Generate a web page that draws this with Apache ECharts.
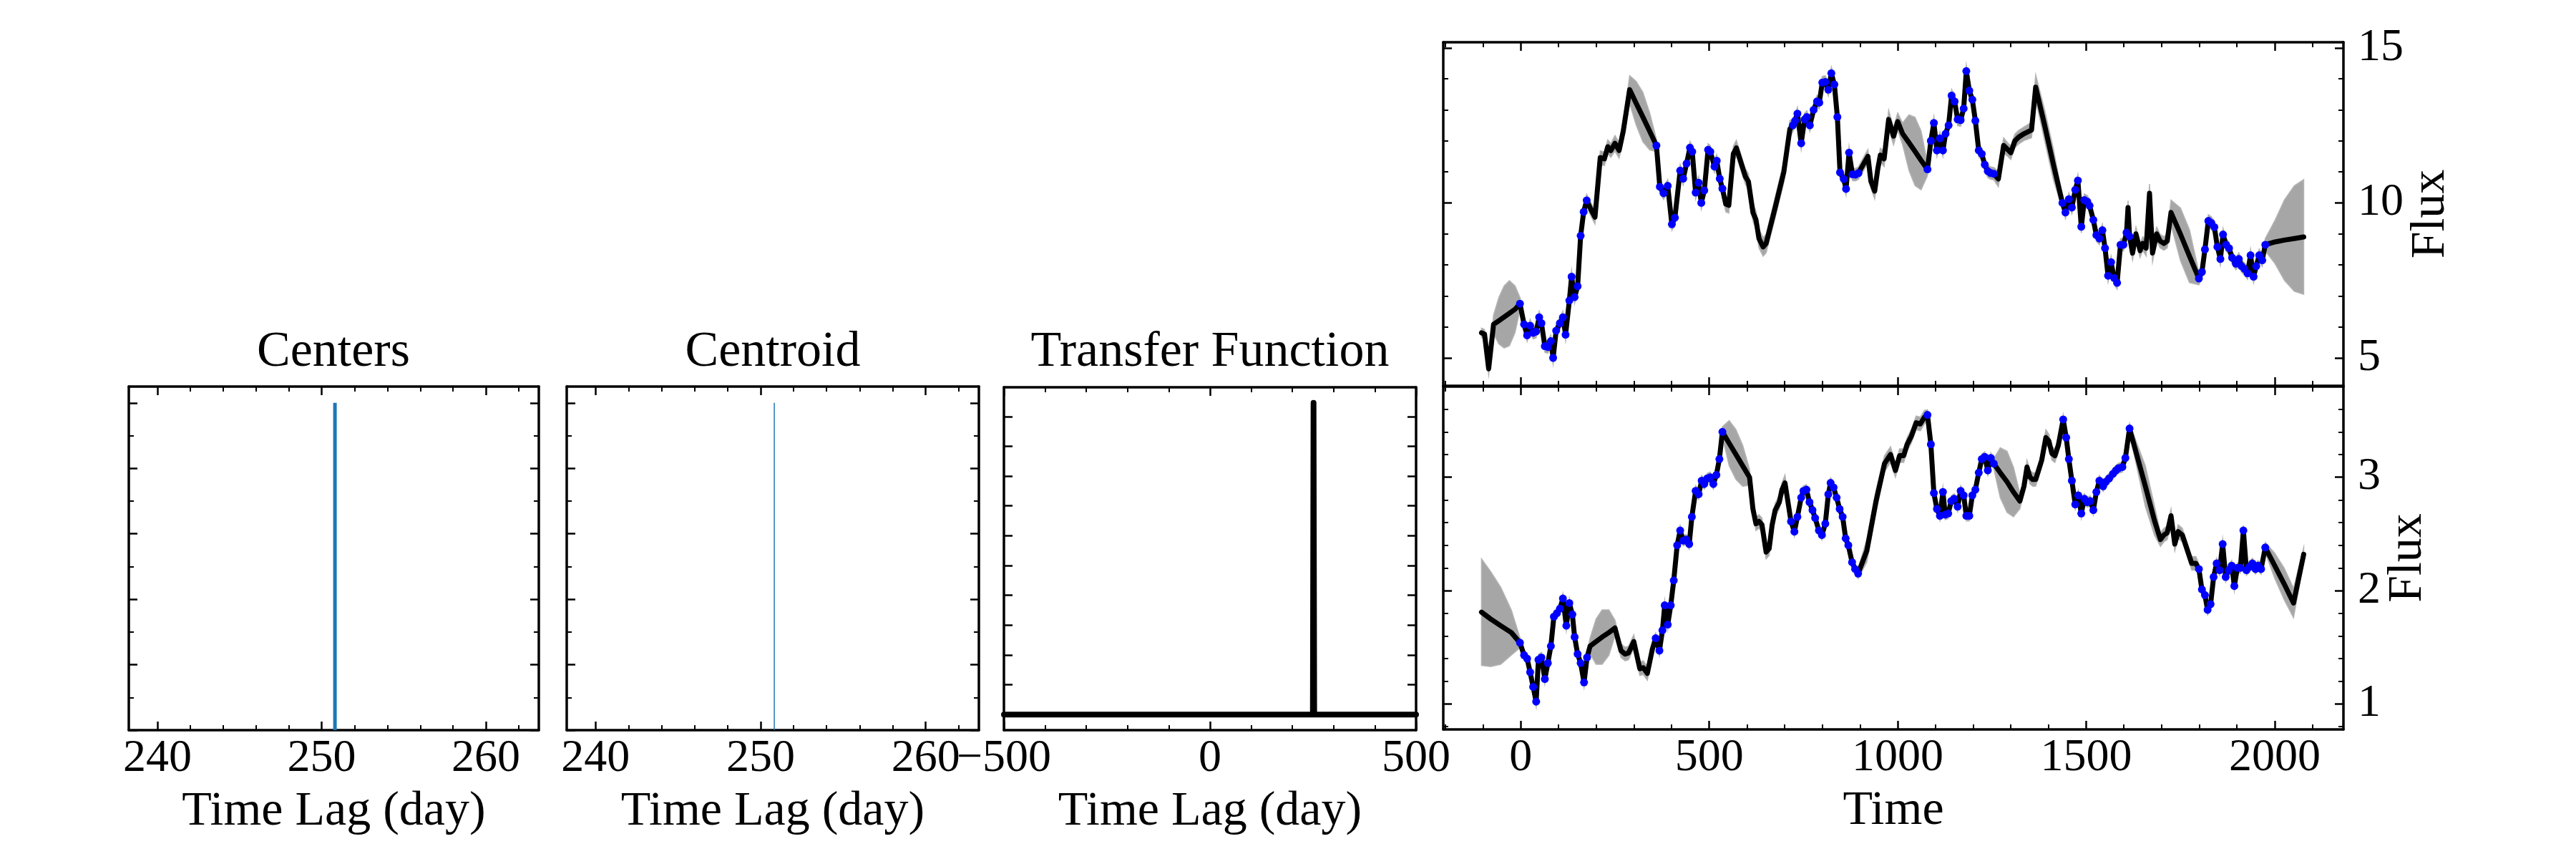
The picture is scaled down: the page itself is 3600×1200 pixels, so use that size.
<!DOCTYPE html>
<html><head><meta charset="utf-8">
<script src="https://cdn.jsdelivr.net/npm/echarts@6/dist/echarts.min.js"></script>
<style>html,body{margin:0;padding:0;background:#fff}#c{width:3600px;height:1200px}</style>
</head><body><div id="c"></div><script>
// ---------------- data ----------------
const centersLag = 250.81;          // all samples of the lag centre
const centersHeight = 1.0;          // normalised histogram height
const centroidLag = 250.83;
const centroidHeight = 1.0;
const tfLag   = [-500, 249.6, 251.2, 252.8, 500];
const tfValue = [0, 0, 10.46, 0, 0];

const lagTicks = [240, 250, 260];
const lagMinor = [242, 244, 246, 248, 252, 254, 256, 258, 262];
const histYMajor = [0, 0.2, 0.4, 0.6, 0.8, 1.0];
const histYMinor = [0.1, 0.3, 0.5, 0.7, 0.9];
const tfXMajor = [-500, 0, 500];
const tfXMinor = [-400, -300, -200, -100, 100, 200, 300, 400];
const tfYMajor = [0, 1, 2, 3, 4, 5, 6, 7, 8, 9, 10];
const timeMajor = [0, 500, 1000, 1500, 2000];
const timeMinor = [-200, -100, 100, 200, 300, 400, 600, 700, 800, 900, 1100, 1200, 1300, 1400, 1600, 1700, 1800, 1900, 2100];
const topFluxMajor = [5, 10, 15];
const topFluxMinor = [6, 7, 8, 9, 11, 12, 13, 14];
const botFluxMajor = [1, 2, 3];
const botFluxMinor = [0.8, 1.2, 1.4, 1.6, 1.8, 2.2, 2.4, 2.6, 2.8, 3.2, 3.4, 3.6];

// observed points (blue dots), top light curve
const topObs = [[-2,6.75],[9,6.08],[17,5.73],[25,6.04],[33,5.81],[41,5.85],[49,6.31],[55,6.12],[64,5.38],[72,5.35],[80,5.54],[86,5.00],[94,5.88],[104,6.12],[112,6.31],[119,5.75],[129,6.85],[135,7.62],[143,6.96],[151,7.31],[159,8.94],[167,9.71],[175,10.08],
[360,11.85],[369,10.52],[379,10.31],[390,10.55],[401,9.31],[409,9.52],[423,11.04],[431,10.78],[440,11.27],[449,11.78],[455,11.65],[464,10.33],[472,10.65],[479,10.00],[487,10.40],[497,11.71],[503,11.65],[514,11.17],[520,11.36],[528,10.78],[535,10.46],
[722,12.50],[728,12.65],[734,12.88],[744,11.92],[753,12.69],[759,12.77],[767,12.50],[777,13.00],[786,13.27],[792,13.23],[800,13.88],[808,13.90],[816,13.65],[824,14.18],[832,13.82],[840,12.77],[847,10.98],[857,10.77],[863,10.45],[871,11.62],[880,10.92],[888,10.91],[896,10.96],
[1079,11.08],[1088,12.00],[1096,12.58],[1104,11.69],[1112,12.08],[1120,11.69],[1127,12.23],[1135,12.50],[1143,13.46],[1151,13.27],[1159,12.69],[1167,12.67],[1175,13.04],[1182,14.25],[1190,13.62],[1198,13.33],[1206,12.65],[1215,11.69],[1223,11.58],[1231,11.23],[1239,11.02],[1247,10.96],[1255,10.94],
[1437,10.00],[1445,9.69],[1454,10.12],[1462,9.85],[1471,10.42],[1478,10.72],[1487,9.23],[1495,10.09],[1503,10.04],[1509,9.91],[1519,9.45],[1527,8.96],[1535,8.85],[1543,9.12],[1550,8.54],[1558,7.65],[1566,8.09],[1574,7.58],[1582,7.42],[1591,8.65],[1599,8.65],[1607,9.04],[1615,8.92],
[1799,7.56],[1807,7.77],[1815,8.50],[1824,9.42],[1832,9.35],[1840,9.22],[1848,8.58],[1856,8.19],[1863,8.98],[1871,8.65],[1879,8.54],[1887,8.23],[1897,8.04],[1905,8.19],[1912,7.96],[1920,7.87],[1928,7.73],[1936,8.31],[1944,7.62],[1951,7.96],[1959,8.31],[1967,8.15],[1975,8.65]];
const topObsErr = 0.2;
// model-only points [time, flux, half-width of band]
const topModel = [[-104,5.81,0.15],[-96,5.77,0.15],[-85,4.65,0.2],[-72,6.08,0.3],[-58,6.20,0.75],[-44,6.32,1.0],[-30,6.44,1.05],[-15,6.57,0.75],
[187,9.77,0.22],[197,9.54,0.22],[211,11.46,0.22],[222,11.42,0.22],[231,11.81,0.22],[239,11.69,0.22],[250,11.92,0.25],[261,11.69,0.25],[272,12.31,0.28],[289,13.65,0.45],[306,13.22,0.7],[324,12.77,0.8],[342,12.31,0.6],
[544,9.96,0.25],[552,9.92,0.25],[564,11.58,0.25],[572,11.77,0.25],[596,10.85,0.25],[604,10.69,0.25],[616,9.69,0.28],[624,9.46,0.28],[632,8.85,0.3],[643,8.58,0.3],[651,8.69,0.3],[675,9.85,0.33],[698,11.00,0.33],[714,12.38,0.28],
[912,11.31,0.22],[921,11.50,0.22],[929,10.69,0.22],[939,10.38,0.25],[947,11.08,0.22],[954,11.54,0.22],[964,11.42,0.25],[976,12.69,0.3],[989,12.15,0.28],[1000,12.62,0.28],[1013,12.23,0.35],[1030,11.94,0.9],[1046,11.66,1.1],[1062,11.37,0.95],
[1267,10.77,0.25],[1281,11.85,0.25],[1291,11.73,0.22],[1300,11.62,0.22],[1311,12.00,0.22],[1321,12.12,0.22],[1335,12.23,0.22],[1355,12.35,0.25],[1366,13.73,0.4],[1390,12.49,0.5],[1413,11.24,0.5],
[1611,9.85,0.22],[1623,8.38,0.22],[1632,9.00,0.22],[1643,8.46,0.22],[1650,8.69,0.22],[1659,8.54,0.25],[1668,10.31,0.3],[1676,8.38,0.28],[1687,9.00,0.22],[1696,8.77,0.22],[1706,8.69,0.22],[1715,8.77,0.22],[1725,9.69,0.4],[1750,8.99,0.85],[1774,8.28,0.85],
[2001,8.74,0.7],[2026,8.80,1.3],[2052,8.85,1.7],[2077,8.90,1.85]];

const botObs = [[-2,1.54],[9,1.43],[17,1.40],[25,1.28],[33,1.15],[41,1.02],[47,1.39],[55,1.41],[64,1.22],[72,1.36],[80,1.51],[88,1.77],[96,1.80],[104,1.84],[112,1.93],[121,1.69],[129,1.89],[137,1.79],[143,1.59],[151,1.44],[159,1.36],[168,1.19],[176,1.41],
[358,1.58],[368,1.47],[376,1.65],[382,1.87],[390,1.70],[398,1.87],[406,2.09],[415,2.40],[423,2.53],[431,2.44],[439,2.45],[447,2.41],[454,2.65],[464,2.88],[472,2.85],[480,2.97],[487,2.94],[495,2.99],[503,3.00],[511,2.94],[519,3.02],[527,3.16],[535,3.40],
[717,2.61],[726,2.52],[734,2.65],[744,2.82],[750,2.88],[758,2.89],[766,2.78],[774,2.71],[781,2.64],[791,2.53],[799,2.49],[808,2.59],[816,2.85],[822,2.95],[830,2.91],[838,2.82],[846,2.72],[854,2.65],[862,2.46],[869,2.40],[879,2.25],[887,2.19],[895,2.15],
[1079,3.55],[1088,3.29],[1096,2.86],[1104,2.72],[1112,2.66],[1120,2.87],[1126,2.67],[1134,2.68],[1142,2.79],[1150,2.81],[1159,2.74],[1167,2.88],[1175,2.84],[1182,2.66],[1190,2.66],[1198,2.84],[1206,2.89],[1215,3.04],[1223,3.16],[1231,3.18],[1239,3.06],[1247,3.17],[1255,3.12],
[1439,3.51],[1447,3.35],[1454,3.16],[1462,2.97],[1471,2.76],[1479,2.84],[1487,2.68],[1495,2.81],[1503,2.78],[1511,2.79],[1519,2.71],[1527,2.87],[1535,2.97],[1545,2.92],[1552,2.96],[1561,2.99],[1571,3.03],[1579,3.06],[1586,3.08],[1596,3.09],[1604,3.17],[1615,3.43],
[1799,2.19],[1807,2.01],[1815,1.96],[1822,1.83],[1830,1.88],[1838,2.12],[1846,2.24],[1854,2.18],[1862,2.41],[1870,2.12],[1878,2.18],[1886,2.22],[1893,2.04],[1901,2.20],[1909,2.20],[1917,2.53],[1925,2.18],[1933,2.21],[1941,2.24],[1949,2.19],[1956,2.22],[1964,2.19],[1975,2.38]];
const botObsErr = 0.045;
const botModel = [[-104,1.81,0.47],[-80,1.75,0.42],[-53,1.69,0.34],[-25,1.63,0.2],
[184,1.51,0.07],[200,1.55,0.2],[216,1.59,0.24],[234,1.63,0.2],[250,1.67,0.07],[266,1.47,0.06],[277,1.44,0.06],[286,1.45,0.06],[300,1.55,0.06],[316,1.31,0.06],[325,1.32,0.06],[336,1.27,0.06],[349,1.48,0.06],
[553,3.30,0.2],[571,3.20,0.22],[589,3.10,0.18],[607,3.00,0.07],[616,2.72,0.06],[624,2.59,0.06],[632,2.61,0.06],[640,2.58,0.06],[651,2.34,0.06],[659,2.37,0.06],[667,2.58,0.06],[675,2.71,0.06],[686,2.78,0.06],[693,2.89,0.06],[701,2.95,0.07],[709,2.78,0.06],
[918,2.35,0.1],[942,2.78,0.1],[965,3.12,0.07],[981,3.20,0.07],[994,3.06,0.06],[1005,3.19,0.06],[1016,3.19,0.06],[1025,3.29,0.06],[1036,3.36,0.06],[1049,3.48,0.06],[1060,3.47,0.06],[1071,3.53,0.06],
[1272,3.04,0.22],[1290,2.96,0.27],[1307,2.87,0.22],[1324,2.79,0.07],[1335,2.92,0.06],[1343,3.09,0.06],[1351,3.00,0.06],[1358,2.98,0.06],[1366,2.98,0.06],[1382,3.15,0.06],[1393,3.35,0.07],[1401,3.32,0.06],[1409,3.21,0.06],[1417,3.19,0.06],[1426,3.28,0.06],
[1657,2.92,0.18],[1681,2.62,0.13],[1697,2.45,0.06],[1706,2.49,0.06],[1715,2.51,0.06],[1725,2.66,0.06],[1735,2.41,0.06],[1744,2.52,0.06],[1755,2.49,0.06],[1767,2.37,0.06],[1780,2.24,0.06],[1791,2.24,0.06],
[2000,2.22,0.11],[2025,2.06,0.14],[2050,1.89,0.13],[2077,2.32,0.06]];

// ---------------- styling / layout ----------------
const FONT = '"Liberation Serif", "DejaVu Serif", serif';
const TICK_FS = 64, NAME_FS = 68, TITLE_FS = 70;
const grids = [
  {left:180,  top:540, width:573,  height:480},
  {left:792,  top:540, width:576,  height:480},
  {left:1403, top:541, width:576,  height:479},
  {left:2017, top:59,  width:1258, height:480},
  {left:2017, top:540, width:1258, height:479}
];
grids.forEach(g => { g.outerBoundsMode = 'none'; g.containLabel = false; });

const xAxes = [], yAxes = [];
function fmt(v) { return v < 0 ? '\u2212' + Math.abs(v) : String(v); }
function mkAxis(list, o) {
  const base = {type:'value', gridIndex:o.grid, position:o.pos, min:o.min, max:o.max, splitLine:{show:false}};
  const major = Object.assign({}, base, {
    axisLine:{show:true, onZero:false, lineStyle:{color:'#000', width:3.5}},
    axisTick:{show:true, inside:true, length:12, customValues:o.major, lineStyle:{color:'#000', width:2.5}},
    axisLabel: o.labels ? {show:true, customValues:o.major, formatter:fmt, fontFamily:FONT, fontSize:TICK_FS, color:'#000', margin:o.margin} : {show:false}
  });
  if (o.name) Object.assign(major, {name:o.name, nameLocation:'middle', nameGap:o.nameGap,
    nameTextStyle:{fontFamily:FONT, fontSize:NAME_FS, color:'#000'}});
  const idx = list.length; list.push(major);
  if (o.minor && o.minor.length) {
    list.push(Object.assign({}, base, {
      axisLine:{show:false, onZero:false},
      axisTick:{show:true, inside:true, length:7, customValues:o.minor, lineStyle:{color:'#000', width:2}},
      axisLabel:{show:false}
    }));
  }
  return idx;
}
function frame(g, xr, yr, xMaj, xMin, yMaj, yMin, xLab, xName, yLab, yName, yNameGap) {
  const xi = mkAxis(xAxes, {grid:g, pos:'bottom', min:xr[0], max:xr[1], major:xMaj, minor:xMin, labels:xLab, margin:8, name:xName, nameGap:80});
  mkAxis(xAxes, {grid:g, pos:'top', min:xr[0], max:xr[1], major:xMaj, minor:xMin});
  const yi = mkAxis(yAxes, {grid:g, pos:'left', min:yr[0], max:yr[1], major:yMaj, minor:yMin});
  mkAxis(yAxes, {grid:g, pos:'right', min:yr[0], max:yr[1], major:yMaj, minor:yMin, labels:yLab, margin:20, name:yName, nameGap:yNameGap});
  return [xi, yi];
}
const a0 = frame(0, [238.26, 263.22], [0, 1.05], lagTicks, lagMinor, histYMajor, histYMinor, true, 'Time Lag (day)');
const a1 = frame(1, [238.26, 263.22], [0, 1.05], lagTicks, lagMinor, histYMajor, histYMinor, true, 'Time Lag (day)');
const a2 = frame(2, [-500, 500], [-0.523, 10.98], tfXMajor, tfXMinor, tfYMajor, [], true, 'Time Lag (day)');
const a3 = frame(3, [-205.4, 2182.4], [4.1, 15.18], timeMajor, timeMinor, topFluxMajor, topFluxMinor, false, null, true, 'Flux', 84);
const a4 = frame(4, [-205.4, 2182.4], [0.775, 3.8], timeMajor, timeMinor, botFluxMajor, botFluxMinor, true, 'Time', true, 'Flux', 54);

function buildCurve(obs, model, obsErr) {
  const pts = obs.map(p => [p[0], p[1], obsErr]).concat(model.map(p => [p[0], p[1], p[2]]));
  pts.sort((a, b) => a[0] - b[0]);
  return pts;
}
const topCurve = buildCurve(topObs, topModel, topObsErr);
const botCurve = buildCurve(botObs, botModel, botObsErr);

function bandSeries(ax, pts) {
  return {
    type:'custom', xAxisIndex:ax[0], yAxisIndex:ax[1], z:1, silent:true,
    data:[[pts[0][0], pts[0][1]]],
    renderItem: function (params, api) {
      const up = pts.map(p => api.coord([p[0], p[1] + p[2]]));
      const lo = pts.slice().reverse().map(p => api.coord([p[0], p[1] - p[2]]));
      return {type:'polygon', shape:{points: up.concat(lo)}, style:{fill:'#a6a6a6', stroke:'#b4b4b4', lineWidth:1.5}};
    }
  };
}
function curveSeries(ax, pts) {
  return {type:'line', xAxisIndex:ax[0], yAxisIndex:ax[1], z:3, symbol:'none', silent:true,
    data: pts.map(p => [p[0], p[1]]),
    lineStyle:{color:'#000', width:7, join:'round', cap:'round'}};
}
function dotSeries(ax, obs) {
  return {type:'scatter', xAxisIndex:ax[0], yAxisIndex:ax[1], z:4, silent:true,
    symbol:'circle', symbolSize:11, data: obs, itemStyle:{color:'#0000ff', opacity:1}};
}

const titleStyle = {fontFamily:FONT, fontSize:TITLE_FS, fontWeight:'normal', color:'#000'};
const option = {
  animation:false,
  backgroundColor:'#fff',
  title:[
    {text:'Centers', left:466, top:458, textAlign:'center', padding:0, textStyle:titleStyle},
    {text:'Centroid', left:1080, top:458, textAlign:'center', padding:0, textStyle:titleStyle},
    {text:'Transfer Function', left:1691, top:458, textAlign:'center', padding:0, textStyle:titleStyle}
  ],
  grid: grids,
  xAxis: xAxes,
  yAxis: yAxes,
  series: [
    {type:'line', xAxisIndex:a0[0], yAxisIndex:a0[1], symbol:'none', silent:true,
      data:[[centersLag, 0], [centersLag, centersHeight]], lineStyle:{color:'#1f77b4', width:5}},
    {type:'line', xAxisIndex:a1[0], yAxisIndex:a1[1], symbol:'none', silent:true,
      data:[[centroidLag, 0], [centroidLag, centroidHeight]], lineStyle:{color:'#1f77b4', width:1.5}},
    {type:'line', xAxisIndex:a2[0], yAxisIndex:a2[1], symbol:'none', silent:true,
      data: tfLag.map((v, i) => [v, tfValue[i]]), lineStyle:{color:'#000', width:8, join:'round', cap:'round'}},
    bandSeries(a3, topCurve), curveSeries(a3, topCurve), dotSeries(a3, topObs),
    bandSeries(a4, botCurve), curveSeries(a4, botCurve), dotSeries(a4, botObs)
  ]
};
const chart = echarts.init(document.getElementById('c'), null, {renderer:'canvas'});
chart.setOption(option);
</script></body></html>
